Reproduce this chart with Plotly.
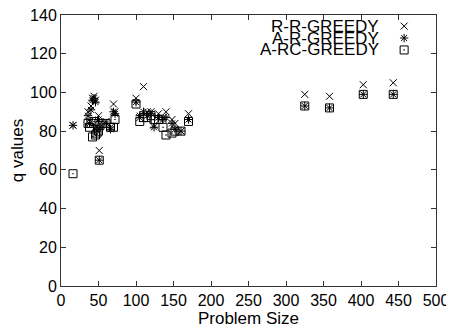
import plotly.graph_objects as go

problem_size = [16, 36, 38, 40, 42, 44, 46, 48, 50, 51, 52, 60, 66, 70, 72,
                100, 105, 110, 115, 120, 124, 130, 136, 140, 148, 152, 160, 170,
                325, 358, 403, 443]
rr_greedy = [83, 90, 85, 93, 97, 98, 96, 82, 88, 70, 84, 85, 82, 94, 90,
             97, 87, 103, 90, 90, 83, 89, 87, 90, 86, 84, 80, 89,
             99, 98, 104, 105]
ar_greedy = [83, 88, 84, 91, 96, 97, 95, 80, 86, 65, 82, 84, 81, 90, 89,
             95, 88, 90, 88, 89, 82, 87, 86, 87, 84, 81, 80, 86,
             93, 92, 99, 99]
arc_greedy = [58, 84, 82, 84, 77, 85, 78, 79, 80, 65, 83, 84, 82, 82, 86,
              94, 85, 87, 87, 88, 86, 86, 82, 78, 79, 80, 80, 85,
              93, 92, 99, 99]

series_names = ["R-R-GREEDY", "A-R-GREEDY", "A-RC-GREEDY"]
series_values = [rr_greedy, ar_greedy, arc_greedy]
symbols = ["x-thin-open", "asterisk-open", "square-open-dot"]
sizes = [7, 7, 8]

x_ticks = list(range(0, 501, 50))
y_ticks = list(range(0, 141, 20))

FONT = "Liberation Sans, Arial, sans-serif"

fig = go.Figure()
for name, vals, sym, sz in zip(series_names, series_values, symbols, sizes):
    fig.add_trace(go.Scatter(
        x=problem_size, y=vals, mode="markers", name=name,
        marker=dict(symbol=sym, size=sz, color="black",
                    line=dict(color="black", width=1)),
        showlegend=False))

# legend keys (right of the text, gnuplot style) on a hidden overlay axis
key_y = [0.959, 0.915, 0.871]
for name, sym, sz, ky in zip(series_names, symbols, sizes, key_y):
    fig.add_trace(go.Scatter(
        x=[0.915], y=[ky], mode="markers", xaxis="x2", yaxis="y2",
        marker=dict(symbol=sym, size=sz, color="black",
                    line=dict(color="black", width=1)),
        showlegend=False, hoverinfo="skip"))
    fig.add_annotation(x=0.852, y=ky, xref="paper", yref="paper",
                       text=name, showarrow=False, xanchor="right",
                       yanchor="middle",
                       font=dict(family=FONT, size=17, color="black"))

axis_common = dict(showline=True, linecolor="#333333", linewidth=1, mirror="ticks",
                   ticks="inside", ticklen=5, tickcolor="#333333", showgrid=False,
                   zeroline=False, automargin=False, ticklabeloverflow="allow",
                   tickfont=dict(family=FONT, size=16, color="black"))

# the page body has an 8px default margin, so the figure is sized to fit the window
fig.update_layout(
    width=446, height=323,
    margin=dict(l=53, r=18, t=7, b=45, autoexpand=False),
    paper_bgcolor="white", plot_bgcolor="white",
    xaxis=dict(range=[0, 500], tickvals=x_ticks,
               title=dict(text="Problem Size", standoff=0,
                          font=dict(family=FONT, size=17, color="black")),
               **axis_common),
    yaxis=dict(range=[0, 140], tickvals=y_ticks,
               title=dict(text="q values", standoff=8,
                          font=dict(family=FONT, size=17, color="black")),
               **axis_common),
    xaxis2=dict(overlaying="x", range=[0, 1], visible=False),
    yaxis2=dict(overlaying="y", range=[0, 1], visible=False),
    showlegend=False,
)

fig.write_html("out.html")
